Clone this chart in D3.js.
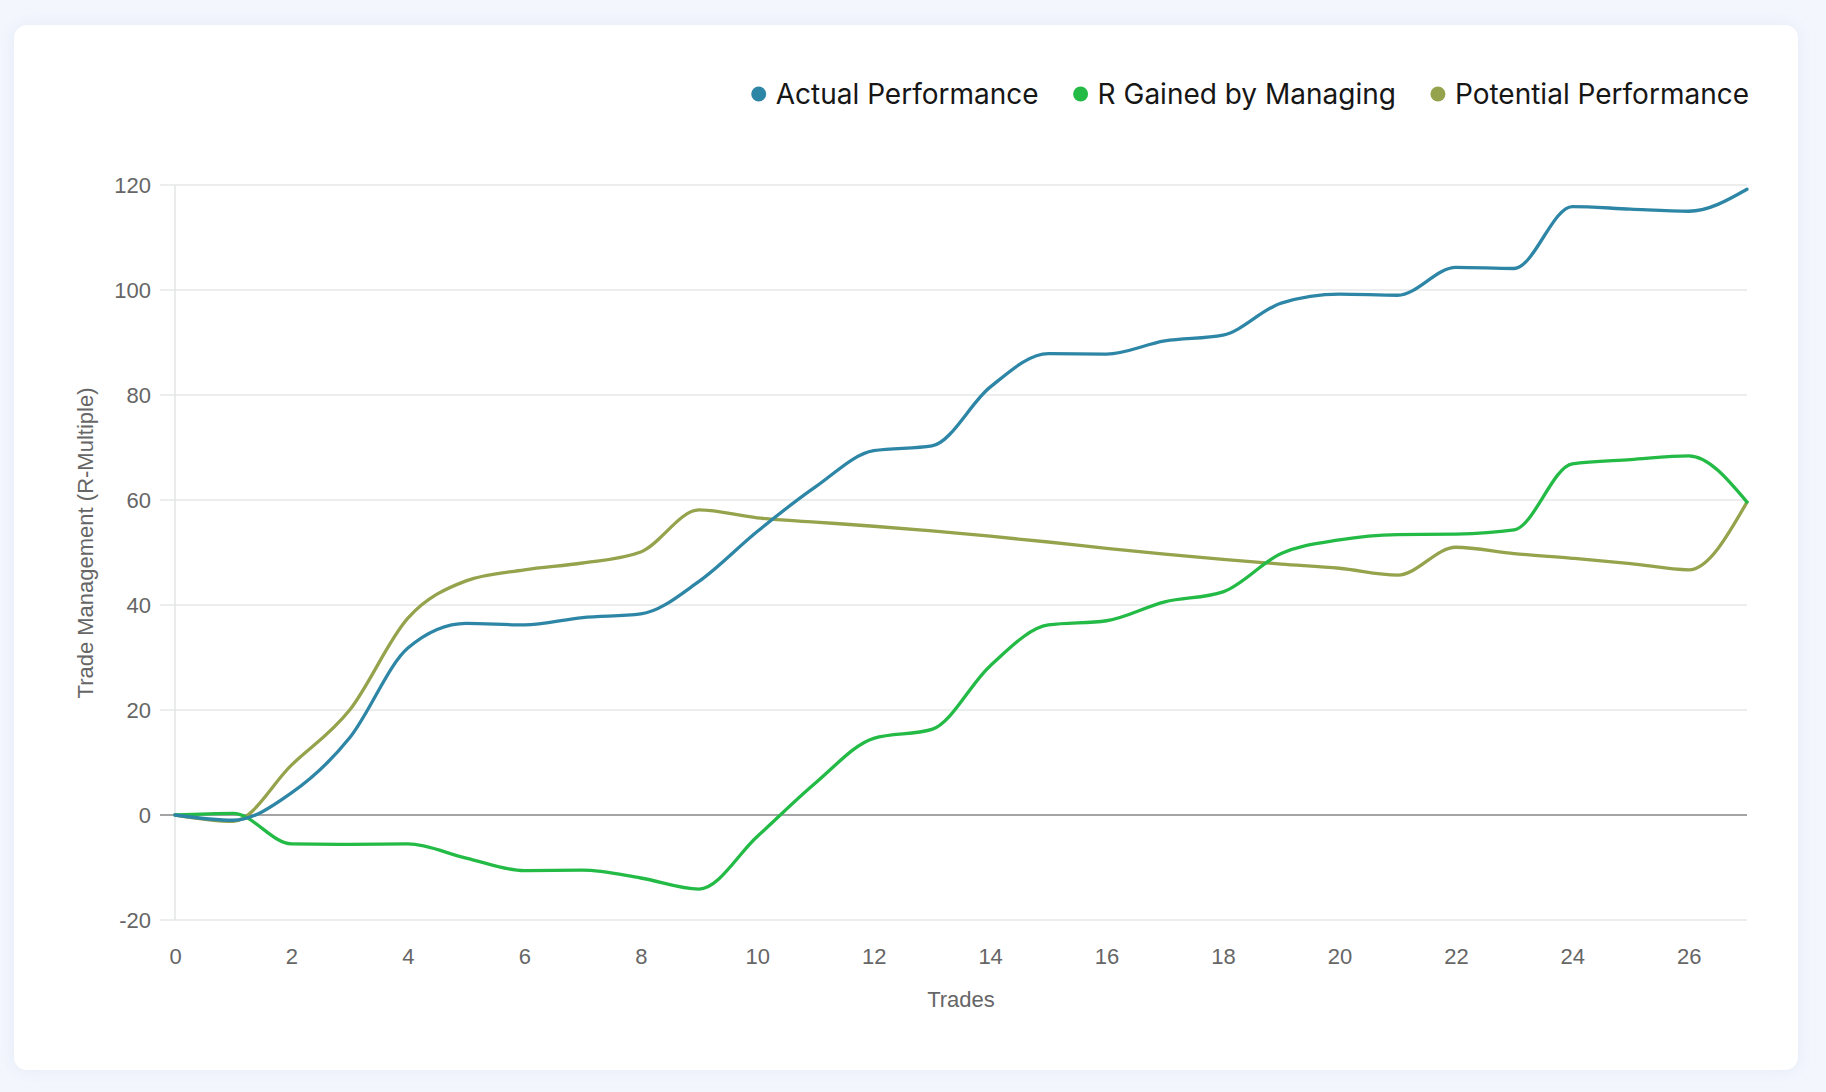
<!DOCTYPE html>
<html>
  <head>
    <meta charset="utf-8">
    <title>Trade Management</title>
    <script src="https://d3js.org/d3.v7.min.js"></script>
    <style>
      html, body { margin: 0; padding: 0; background: #f3f6fd; }
      svg { display: block; }
    </style>
  </head>
  <body>
    <div id="chart"></div>
    <script>
      // Chart values
      const trades = [0, 1, 2, 3, 4, 5, 6, 7, 8, 9, 10, 11, 12, 13, 14, 15, 16, 17, 18, 19, 20, 21, 22, 23, 24, 25, 26, 27];
      const actualPerformance = [0, -1, 4.2, 14.7, 31.8, 36.5, 36.2, 37.6, 38.3, 44.5, 54, 62.5, 69.4, 70.3, 81.5, 87.9, 87.8, 90.3, 91.4, 97.5, 99.2, 99.0, 104.3, 104.1, 115.9, 115.4, 115.0, 119.2];
      const rGained = [0, 0.3, -5.5, -5.6, -5.5, -8.2, -10.6, -10.5, -12, -14.1, -4.1, 6.1, 14.6, 16.3, 28.4, 36.2, 37, 40.6, 42.5, 49.8, 52.4, 53.4, 53.5, 54.3, 66.9, 67.7, 68.4, 59.6];
      const potentialPerformance = [0, -1.2, 9.5, 20, 37.5, 44.6, 46.7, 48, 50.1, 58.1, 56.6, 55.8, 55.0, 54.1, 53.1, 52.0, 50.8, 49.7, 48.7, 47.8, 47.0, 45.7, 51.0, 49.8, 48.9, 47.9, 46.7, 59.6];
      const seriesNames = ["Actual Performance", "R Gained by Managing", "Potential Performance"];
      const seriesColors = ["#2e86a6", "#23ba46", "#94a34c"];
      const yTicks = [-20, 0, 20, 40, 60, 80, 100, 120];
      const xTicks = [0, 2, 4, 6, 8, 10, 12, 14, 16, 18, 20, 22, 24, 26];

      const width = 1826;
      const height = 1092;
      const axisFont = "'Liberation Sans', Helvetica, Arial, sans-serif";
      const axisSize = 22;

      const svg = d3.select("#chart")
        .append("svg")
        .attr("width", width)
        .attr("height", height);

      // card with soft shadow
      const defs = svg.append("defs");
      const shadow = defs.append("filter")
        .attr("id", "shadow")
        .attr("x", "-5%").attr("y", "-5%")
        .attr("width", "110%").attr("height", "110%");
      shadow.append("feDropShadow")
        .attr("dx", 0).attr("dy", 0)
        .attr("stdDeviation", 8)
        .attr("flood-color", "#c9d3ee")
        .attr("flood-opacity", 0.35);

      svg.append("rect")
        .attr("width", width)
        .attr("height", height)
        .attr("fill", "#f3f6fd");

      svg.append("rect")
        .attr("x", 14).attr("y", 25)
        .attr("width", 1784).attr("height", 1045)
        .attr("rx", 13)
        .attr("fill", "#ffffff")
        .attr("filter", "url(#shadow)");

      // scales
      const x = d3.scaleLinear().domain([0, 27]).range([175, 1747]);
      const y = d3.scaleLinear().domain([-20, 120]).range([920, 185]);

      // horizontal grid lines (including the little tick marks left of the axis)
      svg.append("g")
        .selectAll("line")
        .data(yTicks)
        .join("line")
        .attr("x1", 160)
        .attr("x2", x(27))
        .attr("y1", d => y(d))
        .attr("y2", d => y(d))
        .attr("stroke", d => d === 0 ? "#a4a4a4" : "#e6e8e8")
        .attr("stroke-width", d => d === 0 ? 2 : 1.5);

      // left axis line
      svg.append("line")
        .attr("x1", x(0)).attr("x2", x(0))
        .attr("y1", y(120)).attr("y2", y(-20))
        .attr("stroke", "#e3e5e5")
        .attr("stroke-width", 1.5);

      // y axis labels (plain hyphen for negatives, as in the original)
      const yAxis = d3.axisLeft(y).tickValues(yTicks).tickSize(0).tickPadding(0)
        .tickFormat(d => String(d));
      svg.append("g")
        .attr("transform", "translate(151,0)")
        .call(yAxis)
        .call(g => g.select(".domain").remove())
        .call(g => g.selectAll("text")
          .attr("fill", "#666666")
          .attr("font-family", axisFont)
          .attr("font-size", axisSize));

      // x axis labels
      const xAxis = d3.axisBottom(x).tickValues(xTicks).tickSize(0).tickPadding(0)
        .tickFormat(d => String(d));
      svg.append("g")
        .attr("transform", "translate(0,948)")
        .call(xAxis)
        .call(g => g.select(".domain").remove())
        .call(g => g.selectAll("text")
          .attr("fill", "#666666")
          .attr("font-family", axisFont)
          .attr("font-size", axisSize));

      // axis titles
      svg.append("text")
        .attr("x", 961)
        .attr("y", 1007)
        .attr("text-anchor", "middle")
        .attr("fill", "#666666")
        .attr("font-family", axisFont)
        .attr("font-size", axisSize)
        .text("Trades");

      svg.append("text")
        .attr("transform", "translate(93,543) rotate(-90)")
        .attr("text-anchor", "middle")
        .attr("fill", "#666666")
        .attr("font-family", axisFont)
        .attr("font-size", axisSize)
        .text("Trade Management (R-Multiple)");

      // lines, drawn so that Actual Performance ends up on top
      const line = d3.line()
        .x((d, i) => x(trades[i]))
        .y(d => y(d))
        .curve(d3.curveMonotoneX);

      const seriesData = [actualPerformance, rGained, potentialPerformance];
      svg.append("g")
        .selectAll("path")
        .data([2, 1, 0])
        .join("path")
        .attr("d", k => line(seriesData[k]))
        .attr("fill", "none")
        .attr("stroke", k => seriesColors[k])
        .attr("stroke-width", 3.3)
        .attr("stroke-linejoin", "round")
        .attr("stroke-linecap", "round");

      // legend, right aligned
      const legend = svg.append("g");
      const items = legend.selectAll("g")
        .data(seriesNames)
        .join("g");

      items.append("circle")
        .attr("r", 7.5)
        .attr("cy", 94)
        .attr("fill", (d, i) => seriesColors[i]);

      items.append("text")
        .attr("y", 104)
        .attr("font-family", "Inter, 'Noto Sans', sans-serif")
        .attr("font-size", 28)
        .attr("fill", "#161616")
        .text(d => d);

      let right = 1749;
      const nodes = items.nodes().reverse();
      nodes.forEach(node => {
        const g = d3.select(node);
        const w = g.select("text").node().getComputedTextLength();
        const textStart = right - w;
        g.select("text").attr("x", textStart);
        g.select("circle").attr("cx", textStart - 17);
        right = textStart - 17 - 42;
      });
    </script>
  </body>
</html>
